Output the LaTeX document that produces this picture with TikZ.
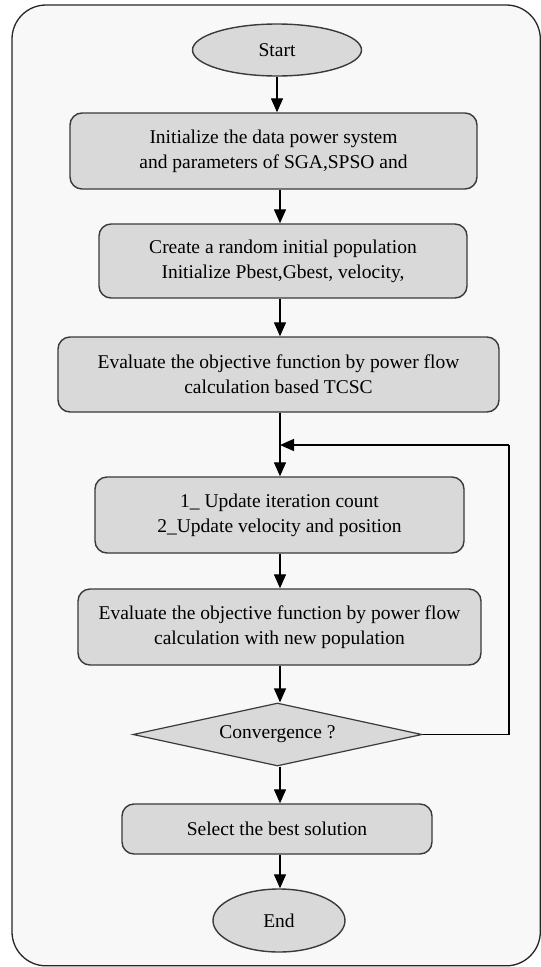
\documentclass[tikz,border=0pt]{standalone}
\usepackage{fontspec}
\setmainfont{Liberation Serif}
\newfontfamily\tnr{Liberation Serif}
\usetikzlibrary{shapes.geometric,arrows.meta}
\definecolor{boxgray}{HTML}{D9D9D9}
\definecolor{bggray}{HTML}{F8F8F8}
\definecolor{edgegray}{HTML}{3A3A3A}
\begin{document}
\begin{tikzpicture}[x=1pt,y=-1pt,
  txt/.style={align=center, inner sep=0pt, text=black, font=\tnr\fontsize{19.5}{25}\selectfont},
  box/.style={txt, draw=edgegray, line width=1.4pt, fill=boxgray, rounded corners=12pt},
  term/.style={txt, ellipse, draw=edgegray, line width=1.4pt, fill=boxgray},
  decide/.style={txt, diamond, aspect=4.6, draw=edgegray, line width=1.2pt, fill=boxgray},
  arr/.style={draw=black, line width=1.3pt, -{Triangle[width=12pt,length=14pt]}},
  plain/.style={draw=black, line width=1.3pt}]
\useasboundingbox (0,0) rectangle (541,967);
\draw[draw=black!85, line width=1.3pt, fill=bggray, rounded corners=34pt] (12,5) rectangle (540.3,965.8);

\node[term, minimum width=169pt, minimum height=52pt] (start) at (277,50) {Start};
\node[box, minimum width=407pt, minimum height=76pt] (b1) at (273.5,151) {Initialize the data power system\\ and parameters of SGA,SPSO and};
\node[box, minimum width=368pt, minimum height=74pt] (b2) at (283,261) {Create a random initial population\\ Initialize Pbest,Gbest, velocity,};
\node[box, minimum width=441pt, minimum height=75pt] (b3) at (278.5,374.5) {Evaluate the objective function by power flow\\ calculation based TCSC};
\node[box, minimum width=369pt, minimum height=76pt] (b4) at (279.5,515) {1\_ Update iteration count\\ 2\_Update velocity and position};
\node[box, minimum width=403pt, minimum height=76pt] (b5) at (279.5,627) {Evaluate the objective function by power flow\\ calculation with new population};
\node[decide, minimum width=289pt, minimum height=63pt] (dia) at (277.5,734.5) {Convergence ?};
\node[box, minimum width=310pt, minimum height=50pt] (b6) at (277,829) {Select the best solution};
\node[term, minimum width=132pt, minimum height=63pt] (end) at (279,920.5) {End};

\coordinate (ax) at (280,0);
\coordinate (j) at (280,445);
\coordinate (lp) at (509,445);

\draw[arr] (start.south) -- (start.south |- b1.north);
\draw[arr] (b1.south -| ax) -- (b2.north -| ax);
\draw[arr] (b2.south -| ax) -- (b3.north -| ax);
\draw[arr] (b3.south -| ax) -- (b4.north -| ax);
\draw[arr] (b4.south -| ax) -- (b5.north -| ax);
\draw[arr] (b5.south -| ax) -- (dia.north -| ax);
\draw[arr] (dia.south -| ax) -- (b6.north -| ax);
\draw[arr] (b6.south -| ax) -- (end.north -| ax);
\draw[plain] (dia.east) -| (lp);
\draw[arr] (lp) -- (j);
\end{tikzpicture}
\end{document}
